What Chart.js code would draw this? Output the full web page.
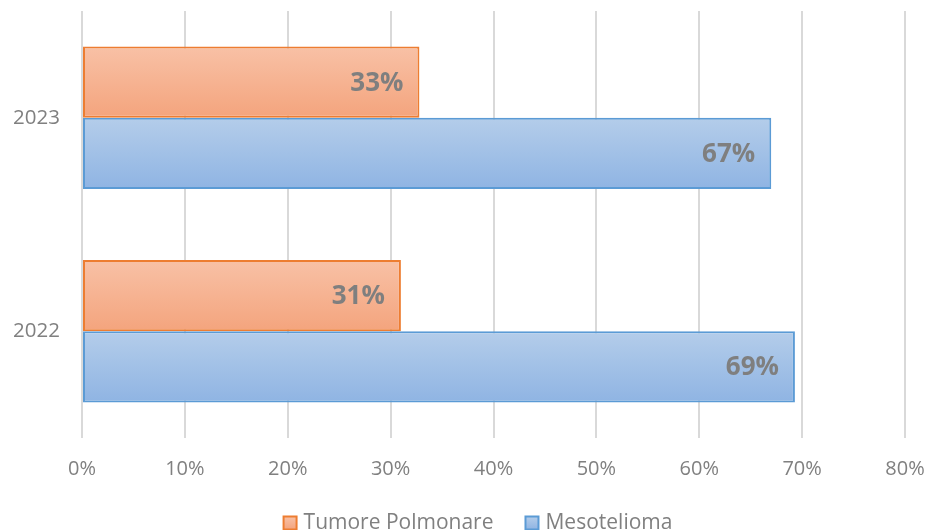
<!DOCTYPE html>
<html>
<head>
<meta charset="utf-8">
<script src="https://cdn.jsdelivr.net/npm/chart.js@4/dist/chart.umd.min.js"></script>
<style>
html,body{margin:0;padding:0;background:#fff;}
#wrap{width:928px;height:530px;position:relative;}
</style>
</head>
<body>
<div id="wrap"><canvas id="c" width="928" height="530"></canvas></div>
<script>
const categories = ['2023', '2022'];
const seriesNames = ['Tumore Polmonare', 'Mesotelioma'];
const tumoreValues = [32.8, 31.0];
const mesoValues = [67.0, 69.3];
const tickLabels = ['0%','10%','20%','30%','40%','50%','60%','70%','80%'];

const FONT = '"Open Sans", "Liberation Sans", sans-serif';
const styles = [
  {top:'#f8c1a6', bottom:'#f4a47d', border:'#ed7d31'},
  {top:'#b4cdea', bottom:'#8fb4e3', border:'#5b9bd5'}
];

const gradientPlugin = {
  id:'grad',
  beforeDatasetsDraw(chart){
    const ctx = chart.ctx;
    chart.data.datasets.forEach((ds,i)=>{
      chart.getDatasetMeta(i).data.forEach(el=>{
        const top = el.y - el.height/2, bot = el.y + el.height/2;
        const g = ctx.createLinearGradient(0, top, 0, bot);
        g.addColorStop(0, styles[i].top);
        g.addColorStop(1, styles[i].bottom);
        el.options.backgroundColor = g;
      });
    });
  }
};

const labelPlugin = {
  id:'lbl',
  afterDatasetsDraw(chart){
    const ctx = chart.ctx;
    ctx.save();
    ctx.font = 'bold 26px ' + FONT;
    ctx.fillStyle = '#7f7f7f';
    ctx.textAlign = 'right';
    ctx.textBaseline = 'middle';
    chart.data.datasets.forEach((ds,i)=>{
      chart.getDatasetMeta(i).data.forEach((el,j)=>{
        ctx.fillText(Math.round(ds.data[j]) + '%', el.x - 16, el.y + 1);
      });
    });
    ctx.restore();
  }
};

const legendPlugin = {
  id:'lgd',
  afterDraw(chart){
    const ctx = chart.ctx;
    ctx.save();
    ctx.font = '21px ' + FONT;
    ctx.textBaseline = 'middle';
    const box = 13, gapBox = 7, gapItem = 32;
    const widths = chart.data.datasets.map(d=>ctx.measureText(d.label).width);
    let total = 0;
    widths.forEach((w,i)=>{ total += box + gapBox + w + (i ? gapItem : 0); });
    let x = 478 - total/2;
    const y = 523;
    chart.data.datasets.forEach((d,i)=>{
      const g = ctx.createLinearGradient(0, y-box/2, 0, y+box/2);
      g.addColorStop(0, styles[i].top); g.addColorStop(1, styles[i].bottom);
      ctx.fillStyle = g;
      ctx.fillRect(x, y-box/2, box, box);
      ctx.strokeStyle = styles[i].border; ctx.lineWidth = 2;
      ctx.strokeRect(x, y-box/2, box, box);
      x += box + gapBox;
      ctx.fillStyle = '#808080';
      ctx.fillText(d.label, x, y);
      x += widths[i] + gapItem;
    });
    ctx.restore();
  }
};

new Chart(document.getElementById('c'), {
  type:'bar',
  data:{
    labels: categories,
    datasets:[
      {label: seriesNames[0], data: tumoreValues, borderColor: styles[0].border, backgroundColor: () => styles[0].bottom, borderWidth: 2, borderSkipped: false},
      {label: seriesNames[1], data: mesoValues, borderColor: styles[1].border, backgroundColor: () => styles[1].bottom, borderWidth: 2, borderSkipped: false}
    ]
  },
  options:{
    indexAxis:'y',
    responsive:false,
    animation:false,
    devicePixelRatio:1,
    categoryPercentage:0.667,
    barPercentage:1,
    layout:{padding:{top:11, right:23, bottom:0, left:0}},
    plugins:{legend:{display:false}, tooltip:{enabled:false}},
    scales:{
      x:{
        min:0, max:80,
        border:{display:false},
        grid:{color:'#d9d9d9', lineWidth:2, drawTicks:false},
        ticks:{stepSize:10, padding:19, color:'#808080', font:{family:FONT, size:20},
          callback:(v,i)=>tickLabels[i]},
        afterFit(s){ s.height = 92; s.paddingLeft = 0; s.paddingRight = 0; }
      },
      y:{
        border:{display:false},
        grid:{display:false, drawTicks:false},
        ticks:{padding:22, color:'#808080', font:{family:FONT, size:20.5}},
        afterFit(s){ s.width = 82; s.paddingTop = 0; s.paddingBottom = 0; }
      }
    }
  },
  plugins:[gradientPlugin, labelPlugin, legendPlugin]
});
</script>
</body>
</html>
